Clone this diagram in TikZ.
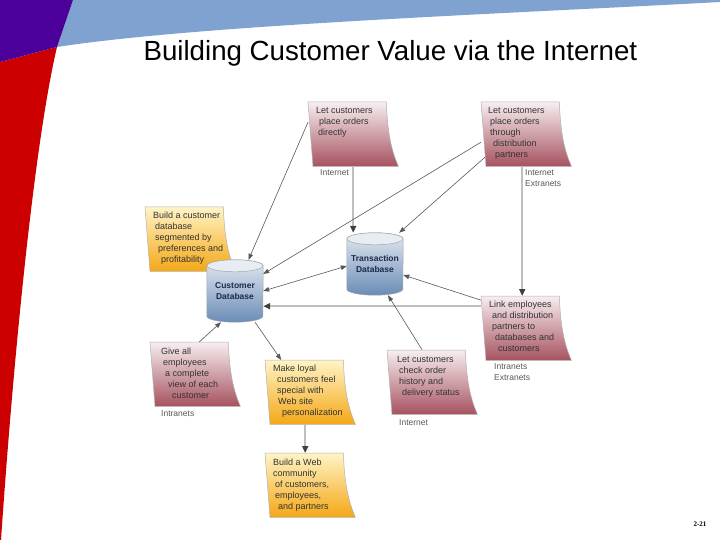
\documentclass[tikz,border=0pt]{standalone}
\usepackage{fontspec}
\setmainfont{Liberation Sans}
\newfontfamily\pagefont{Liberation Serif}
\usetikzlibrary{arrows.meta, positioning, backgrounds}
\definecolor{bandblue}{HTML}{7FA2D0}
\definecolor{bandpurple}{HTML}{4A0099}
\definecolor{bandred}{HTML}{CC0000}
\definecolor{rosetop}{HTML}{F7EEF0}
\definecolor{rosebot}{HTML}{A6525F}
\definecolor{goldtop}{HTML}{FFF4C6}
\definecolor{goldbot}{HTML}{F4A716}
\definecolor{dbtop}{HTML}{E3E9F0}
\definecolor{dbbot}{HTML}{6B8CB7}
\definecolor{dbcap}{HTML}{E8EDF3}
\definecolor{dbtext}{HTML}{1B2A4E}
\tikzset{
  memo/.style    ={rectangle, anchor=north west, minimum width=78pt,
                   minimum height=64pt, inner sep=0pt},
  memotxt/.style ={inner sep=0pt, align=left, text=black!80,
                   font=\fontsize{9}{11}\selectfont},
  rosenote/.style={top color=rosetop, bottom color=rosebot},
  goldnote/.style={top color=goldtop, bottom color=goldbot},
  dbnode/.style  ={rectangle, minimum width=56pt, minimum height=62pt,
                   inner sep=0pt, align=center, text=dbtext,
                   font=\fontsize{8.5}{11}\selectfont\bfseries},
  netlbl/.style  ={inner sep=0pt, align=left, text=black!65,
                   font=\fontsize{8.5}{11}\selectfont},
  feed/.style    ={-{Triangle[length=6pt, width=4.5pt]}, line width=0.6pt,
                   black!65},
  twoway/.style  ={{Triangle[length=6pt, width=4.5pt]}-{Triangle[length=6pt, width=4.5pt]},
                   line width=0.6pt, black!65},
  trunk/.style   ={-{Triangle[length=7pt, width=6pt, color=black!75]},
                   line width=2.2pt, black!25},
}
% sticky note outline with the curled lower right corner
\newcommand{\stickynote}[2]{%
  \shade[#2, draw=black!30, line width=0.5pt]
    (#1.north west) -- (#1.north east)
    .. controls +(1pt,-34pt) and +(-6pt,14pt) .. ([xshift=12pt]#1.south east)
    -- ([xshift=5pt]#1.south west) -- cycle;}
% database drum behind a node
\newcommand{\dbdrum}[1]{%
  \shade[top color=dbtop, bottom color=dbbot, draw=black!35, line width=0.5pt]
    ([yshift=-6pt]#1.north west) -- ([yshift=6pt]#1.south west)
    arc[start angle=180, end angle=360, x radius=28pt, y radius=6pt]
    -- ([yshift=-6pt]#1.north east)
    arc[start angle=0, end angle=180, x radius=28pt, y radius=6pt] -- cycle;
  \draw[fill=dbcap, draw=black!35, line width=0.5pt]
    ([yshift=-6pt]#1.north) ellipse[x radius=28pt, y radius=6pt];}

\begin{document}
\begin{tikzpicture}[x=1pt, y=-1pt]
  \useasboundingbox (0,0) rectangle (720,540);
  % slide corner
  \fill[bandblue] (73,0) -- (720,0) -- (720,2)
    .. controls (500,14) and (200,25) .. (57,47) -- cycle;
  \fill[bandred] (0,62) -- (57,47) .. controls (35,140) and (14,350) .. (1,540)
    -- (0,540) -- cycle;
  \fill[bandpurple] (0,0) -- (73,0) -- (57,47) -- (0,62) -- cycle;
  \node[anchor=base west, font=\fontsize{27.7}{32}\selectfont] (ttl) at (140,61)
    {Building Customer Value via the Internet};
  \node[font=\pagefont\bfseries\fontsize{7}{8}\selectfont] (pgno) at (700,524) {2-21};

  % notes
  \node[memo] (n1) at (308,102) {};
  \node[memo] (n2) at (481,102) {};
  \node[memo] (n3) at (145,207) {};
  \node[memo] (n4) at (481,296) {};
  \node[memo] (n5) at (150,342) {};
  \node[memo] (n6) at (265,360) {};
  \node[memo] (n7) at (387,350) {};
  \node[memo] (n8) at (265,453) {};
  \node[memotxt, below right=5pt and 8pt of n1.north west] (t1)
    {Let customers\\\hspace*{3pt}place orders\\\hspace*{2pt}directly};
  \node[memotxt, below right=5pt and 7pt of n2.north west] (t2)
    {Let customers\\\hspace*{2pt}place orders\\\hspace*{2pt}through\\
     \hspace*{5pt}distribution\\\hspace*{7pt}partners};
  \node[memotxt, below right=5pt and 8pt of n3.north west] (t3)
    {Build a customer\\\hspace*{2pt}database\\\hspace*{2pt}segmented by\\
     \hspace*{5pt}preferences and\\\hspace*{8pt}profitability};
  \node[memotxt, below right=5pt and 8pt of n4.north west] (t4)
    {Link employees\\\hspace*{3pt}and distribution\\\hspace*{3pt}partners to\\
     \hspace*{6pt}databases and\\\hspace*{9pt}customers};
  \node[memotxt, below right=6pt and 11pt of n5.north west] (t5)
    {Give all\\\hspace*{2pt}employees\\\hspace*{4pt}a complete\\
     \hspace*{7pt}view of each\\\hspace*{11pt}customer};
  \node[memotxt, below right=5pt and 8pt of n6.north west] (t6)
    {Make loyal\\\hspace*{4pt}customers feel\\\hspace*{4pt}special with\\
     \hspace*{5pt}Web site\\\hspace*{9pt}personalization};
  \node[memotxt, below right=6pt and 10pt of n7.north west] (t7)
    {Let customers\\\hspace*{2pt}check order\\\hspace*{2pt}history and\\
     \hspace*{5pt}delivery status};
  \node[memotxt, below right=6pt and 8pt of n8.north west] (t8)
    {Build a Web\\community\\\hspace*{2pt}of customers,\\
     \hspace*{2pt}employees,\\\hspace*{5pt}and partners};

  % networks under the notes
  \node[netlbl, below right=3pt and 12pt of n1.south west] (l1) {Internet};
  \node[netlbl, below right=3pt and 44pt of n2.south west] (l2) {Internet\\Extranets};
  \node[netlbl, below right=3pt and 13pt of n4.south west] (l4) {Intranets\\Extranets};
  \node[netlbl, below right=4pt and 11pt of n5.south west] (l5) {Intranets};
  \node[netlbl, below right=5pt and 12pt of n7.south west] (l7) {Internet};

  % databases
  \node[dbnode] (cdb) at (235,291) {Customer\\Database};
  \node[dbnode] (tdb) at (375,264) {Transaction\\Database};

  \begin{scope}[on background layer]
    \fill[white] (0,0) rectangle (720,540);
    \stickynote{n1}{rosenote}
    \stickynote{n2}{rosenote}
    \stickynote{n3}{goldnote}
    \stickynote{n4}{rosenote}
    \stickynote{n5}{rosenote}
    \stickynote{n6}{goldnote}
    \stickynote{n7}{rosenote}
    \stickynote{n8}{goldnote}
    \dbdrum{cdb}
    \dbdrum{tdb}
  \end{scope}

  \draw[feed]   ([yshift=12pt]n1.west) -- (cdb);
  \draw[trunk]  ([xshift=6pt]n1.south) -- ([xshift=6pt]n1.south |- tdb.north);
  \draw[feed]   ([yshift=-8pt]n2.west) -- (cdb);
  \draw[feed]   ([xshift=4pt,yshift=-23pt]n2.west) -- ([xshift=-4pt]tdb.north east);
  \draw[trunk]  ([xshift=2pt]n2.south) -- ([xshift=2pt]n2.south |- n4.north);
  \draw[twoway] (cdb.east) -- ([yshift=-2pt]tdb.west);
  \draw[feed]   ([yshift=28pt]n4.west) -- ([yshift=-11pt]tdb.east);
  \draw[trunk]  ([yshift=22pt]n4.west) -- ([yshift=22pt]n4.west -| cdb.east);
  \draw[feed]   ([xshift=-4pt]n7.north) -- ([xshift=13pt]tdb.south);
  \draw[feed]   ([xshift=10pt]n5.north) -- ([xshift=-14pt]cdb.south);
  \draw[feed]   ([xshift=20pt]cdb.south) -- ([xshift=-23pt]n6.north);
  \draw[trunk]  ([xshift=1pt]n6.south) -- ([xshift=1pt]n6.south |- n8.north);
\end{tikzpicture}
\end{document}
